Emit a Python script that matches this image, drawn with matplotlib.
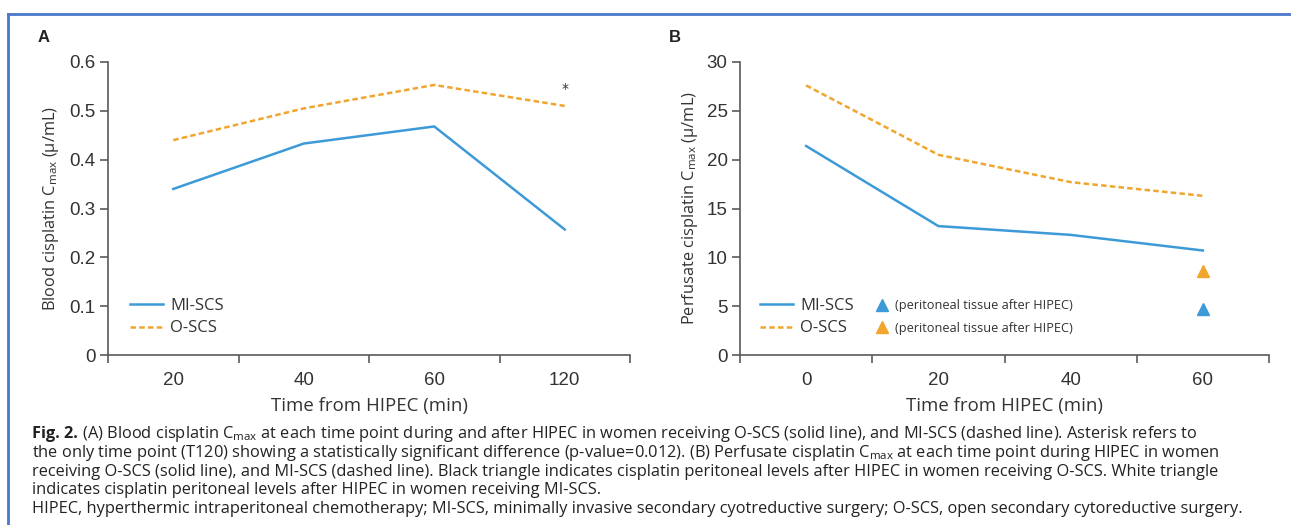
import matplotlib
matplotlib.use("Agg")
import matplotlib.pyplot as plt
from matplotlib.lines import Line2D
from matplotlib.transforms import IdentityTransform
from matplotlib import font_manager
import numpy as np

# ---------------- data ----------------
a_categories = ["20", "40", "60", "120"]
a_mi_scs = [0.340, 0.433, 0.468, 0.257]
a_o_scs = [0.440, 0.505, 0.553, 0.510]
a_star_index = 3
a_star_y = 0.531

b_categories = ["0", "20", "40", "60"]
b_mi_scs = [21.4, 13.2, 12.3, 10.7]
b_o_scs = [27.6, 20.5, 17.7, 16.3]
b_tissue_index = 3
b_tissue_mi = 4.7
b_tissue_o = 8.6

a_yticks = [0, 0.1, 0.2, 0.3, 0.4, 0.5, 0.6]
a_yticklabels = ["0", "0.1", "0.2", "0.3", "0.4", "0.5", "0.6"]
b_yticks = [0, 5, 10, 15, 20, 25, 30]
b_yticklabels = ["0", "5", "10", "15", "20", "25", "30"]

caption_lines = [
    "the only time point (T120) showing a statistically significant difference (p-value=0.012). (B) Perfusate cisplatin C$_{\\mathregular{max}}$ at each time point during HIPEC in women",
    "receiving O-SCS (solid line), and MI-SCS (dashed line). Black triangle indicates cisplatin peritoneal levels after HIPEC in women receiving O-SCS. White triangle",
    "indicates cisplatin peritoneal levels after HIPEC in women receiving MI-SCS.",
    "HIPEC, hyperthermic intraperitoneal chemotherapy; MI-SCS, minimally invasive secondary cyotreductive surgery; O-SCS, open secondary cytoreductive surgery.",
]
caption_first_bold = "Fig. 2."
caption_first_rest = " (A) Blood cisplatin C$_{\\mathregular{max}}$ at each time point during and after HIPEC in women receiving O-SCS (solid line), and MI-SCS (dashed line). Asterisk refers to"

# ---------------- style ----------------
BLUE = "#3d9ad8"
ORANGE = "#f0a62e"
GRAY = "#5a5a5a"
TXT = "#333333"
names = {f.name for f in font_manager.fontManager.ttflist}
TICK_FONT = "Liberation Sans"
LABEL_FONT = "Open Sans" if "Open Sans" in names else "DejaVu Sans"
CAP_FONT = LABEL_FONT

plt.rcParams["mathtext.fontset"] = "custom"
plt.rcParams["mathtext.rm"] = LABEL_FONT

W, H = 1291, 525
fig = plt.figure(figsize=(W / 100, H / 100), dpi=100)
fig.patch.set_facecolor("white")


def fx(px):
    return px / W


def fy(py):
    return 1 - py / H


def style_axes(ax, cats, yticks, yticklabels, ylim):
    n = len(cats)
    ax.set_xlim(-0.5, n - 0.5)
    ax.set_ylim(*ylim)
    ax.set_xticks(np.arange(n))
    ax.set_xticklabels(cats)
    ax.set_xticks(np.arange(n + 1) - 0.5, minor=True)
    ax.tick_params(axis="x", which="major", length=0, pad=12)
    ax.tick_params(axis="x", which="minor", length=6, width=1.2, color=GRAY, direction="out")
    ax.set_yticks(yticks)
    ax.set_yticklabels(yticklabels)
    ax.tick_params(axis="y", length=6, width=1.2, color=GRAY, pad=3)
    for lab in ax.get_xticklabels() + ax.get_yticklabels():
        lab.set_fontfamily(TICK_FONT)
        lab.set_fontsize(13.5)
        lab.set_color(TXT)
    for s in ["top", "right"]:
        ax.spines[s].set_visible(False)
    for s in ["left", "bottom"]:
        ax.spines[s].set_color(GRAY)
        ax.spines[s].set_linewidth(1.2)
    ax.set_xlabel("Time from HIPEC (min)", fontfamily=LABEL_FONT, fontsize=13.4, color=TXT, labelpad=6)


def leg_kw(x_px, size, hl, pad, spacing):
    return dict(loc="center left", bbox_to_anchor=(fx(x_px), fy(317)), bbox_transform=fig.transFigure,
                frameon=False, borderpad=0, borderaxespad=0, handlelength=hl, handletextpad=pad,
                labelspacing=spacing, prop={"family": LABEL_FONT, "size": size})


# ---------------- panel A ----------------
axA = fig.add_axes([fx(108), fy(355), fx(630 - 108), (355 - 62) / H])
xa = np.arange(len(a_categories))
axA.plot(xa, a_mi_scs, color=BLUE, lw=1.8, label="MI-SCS")
axA.plot(xa, a_o_scs, color=ORANGE, lw=1.8, ls=(0, (2.2, 1.3)), label="O-SCS")
axA.text(xa[a_star_index], a_star_y, "*", ha="center", va="bottom", fontsize=10, color=TXT)
style_axes(axA, a_categories, a_yticks, a_yticklabels, (0, 0.6))
axA.set_ylabel("Blood cisplatin C$_{\\mathregular{max}}$ (\u03bc/mL)", fontfamily=LABEL_FONT,
               fontsize=11.8, color=TXT, labelpad=6)
legA = axA.legend(**leg_kw(130, 12, 2.0, 0.42, 0.4))
for t in legA.get_texts():
    t.set_color(TXT)

# ---------------- panel B ----------------
axB = fig.add_axes([fx(740), fy(355), fx(1269 - 740), (355 - 62) / H])
xb = np.arange(len(b_categories))
lmi, = axB.plot(xb, b_mi_scs, color=BLUE, lw=1.8)
lo, = axB.plot(xb, b_o_scs, color=ORANGE, lw=1.8, ls=(0, (2.2, 1.3)))
tmi, = axB.plot([xb[b_tissue_index]], [b_tissue_mi], ls="none", marker="^", ms=9, color=BLUE)
to, = axB.plot([xb[b_tissue_index]], [b_tissue_o], ls="none", marker="^", ms=9, color=ORANGE)
style_axes(axB, b_categories, b_yticks, b_yticklabels, (0, 30))
axB.set_ylabel("Perfusate cisplatin C$_{\\mathregular{max}}$ (\u03bc/mL)", fontfamily=LABEL_FONT,
               fontsize=11.8, color=TXT, labelpad=5)
legB1 = axB.legend([lmi, lo], ["MI-SCS", "O-SCS"], **leg_kw(760, 12, 2.0, 0.42, 0.4))
axB.add_artist(legB1)
legB2 = axB.legend([tmi, to], ["(peritoneal tissue after HIPEC)", "(peritoneal tissue after HIPEC)"],
                   **leg_kw(877, 9.2, 0.8, 0.62, 0.72))
for t in legB1.get_texts() + legB2.get_texts():
    t.set_color(TXT)

# panel letters
fig.text(fx(38), fy(38), "A", fontsize=12, fontweight="bold", fontfamily="Liberation Sans",
         ha="left", va="center", color="#222222")
fig.text(fx(669), fy(38), "B", fontsize=12, fontweight="bold", fontfamily="Liberation Sans",
         ha="left", va="center", color="#222222")

# ---------------- caption ----------------
CAP_SIZE = 11.8
CAP_X = 32
t0 = fig.text(fx(CAP_X), fy(438), caption_first_bold, fontsize=CAP_SIZE, fontweight="bold",
              fontfamily=CAP_FONT, ha="left", va="baseline", color="#222222")
fig.canvas.draw()
r = fig.canvas.get_renderer()
bb = t0.get_window_extent(renderer=r)
fig.text(bb.x1, fy(438) * H, caption_first_rest, fontsize=CAP_SIZE, fontfamily=CAP_FONT, color="#222222",
         ha="left", va="baseline", transform=IdentityTransform())
line_y = [457, 476, 494, 513]
for txt, y in zip(caption_lines, line_y):
    fig.text(fx(CAP_X), fy(y), txt, fontsize=CAP_SIZE, fontfamily=CAP_FONT, ha="left", va="baseline",
             color="#222222")

# border (top + left)
fig.add_artist(Line2D([fx(8), 1], [fy(14), fy(14)], transform=fig.transFigure, color="#4a78cc", lw=2))
fig.add_artist(Line2D([fx(8), fx(8)], [0, fy(14)], transform=fig.transFigure, color="#4a78cc", lw=2))

fig.savefig("out.png", dpi=100)
